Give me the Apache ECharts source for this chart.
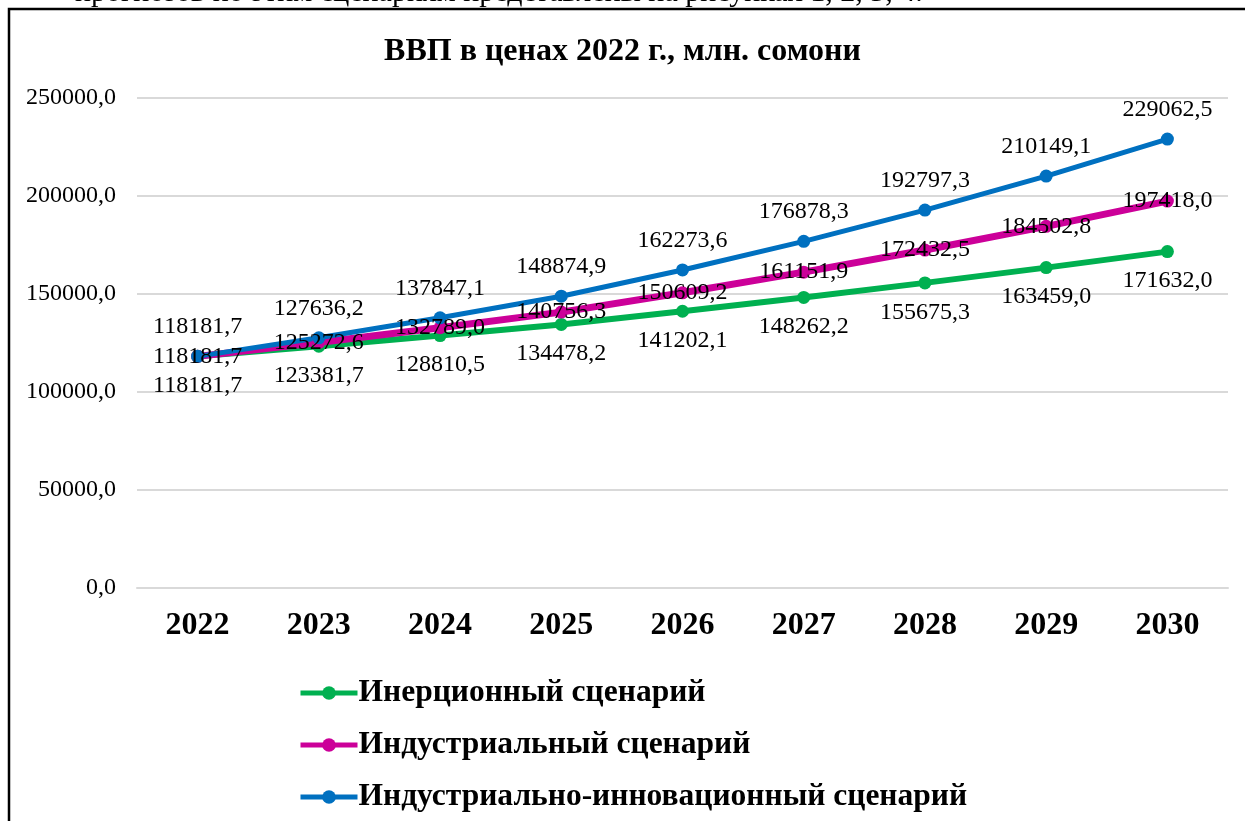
<!DOCTYPE html>
<html>
<head>
<meta charset="utf-8">
<script src="https://cdn.jsdelivr.net/npm/echarts@6/dist/echarts.min.js"></script>
<style>
  html, body { margin: 0; padding: 0; background: #fff; }
  #main { width: 1245px; height: 821px; }
</style>
</head>
<body>
<div id="main"></div>
<script>
// data
var years = ['2022', '2023', '2024', '2025', '2026', '2027', '2028', '2029', '2030'];
var inertia = [118181.7, 123381.7, 128810.5, 134478.2, 141202.1, 148262.2, 155675.3, 163459.0, 171632.0];
var industrial = [118181.7, 125272.6, 132789.0, 140756.3, 150609.2, 161151.9, 172432.5, 184502.8, 197418.0];
var innovation = [118181.7, 127636.2, 137847.1, 148874.9, 162273.6, 176878.3, 192797.3, 210149.1, 229062.5];
var seriesNames = ['Инерционный сценарий', 'Индустриальный сценарий', 'Индустриально-инновационный сценарий'];

var serif = '"Liberation Serif", "Times New Roman", serif';

function fmt(v) {
    return Number(v).toFixed(1).replace('.', ',');
}

function makeSeries(name, data, color, width, pos) {
    return {
        name: name,
        type: 'line',
        data: data,
        symbol: 'circle',
        symbolSize: 13,
        itemStyle: { color: color },
        lineStyle: { color: color, width: width },
        label: {
            show: true,
            position: pos,
            distance: 11,
            fontFamily: serif,
            fontSize: 24,
            color: '#000',
            formatter: function (p) { return fmt(p.value); }
        }
    };
}

var chart = echarts.init(document.getElementById('main'));

var option = {
    backgroundColor: '#fff',
    animation: false,
    graphic: [
        {
            type: 'text',
            left: 75,
            top: -22,
            style: {
                text: 'прогнозов по этим сценариям представлены на рисунках 1, 2, 3, 4.',
                font: '30px ' + serif,
                fill: '#000'
            }
        },
        {
            type: 'rect',
            shape: { x: 9, y: 9, width: 1260, height: 840 },
            style: { fill: 'none', stroke: '#000', lineWidth: 2.5 },
            z: 10
        }
    ],
    title: {
        text: 'ВВП в ценах 2022 г., млн. сомони',
        left: 'center',
        top: 31,
        textStyle: { fontFamily: serif, fontSize: 32, fontWeight: 'bold', color: '#000' }
    },
    legend: {
        orient: 'vertical',
        left: 293,
        top: 672,
        itemWidth: 57,
        itemHeight: 17,
        itemGap: 20,
        data: seriesNames,
        lineStyle: { width: 5 },
        textStyle: { fontFamily: serif, fontSize: 31.5, fontWeight: 'bold', color: '#000', padding: [0, 0, 0, -4] }
    },
    grid: { left: 137, right: 17, top: 98, bottom: 233 },
    xAxis: {
        type: 'category',
        data: years,
        axisLine: { lineStyle: { color: '#d9d9d9', width: 2 } },
        axisTick: { show: false },
        axisLabel: { fontFamily: serif, fontSize: 32, fontWeight: 'bold', color: '#000', margin: 22 }
    },
    yAxis: {
        type: 'value',
        min: 0,
        max: 250000,
        interval: 50000,
        axisLine: { show: false },
        axisTick: { show: false },
        splitLine: { lineStyle: { color: '#d9d9d9', width: 2 } },
        axisLabel: {
            fontFamily: serif, fontSize: 24, color: '#000', margin: 21,
            formatter: function (v) { return fmt(v); }
        }
    },
    series: [
        makeSeries(seriesNames[0], inertia, '#00B050', 6, 'bottom'),
        makeSeries(seriesNames[1], industrial, '#CC0099', 7, 'inside'),
        makeSeries(seriesNames[2], innovation, '#0070C0', 5, 'top')
    ]
};

chart.setOption(option);
</script>
</body>
</html>
